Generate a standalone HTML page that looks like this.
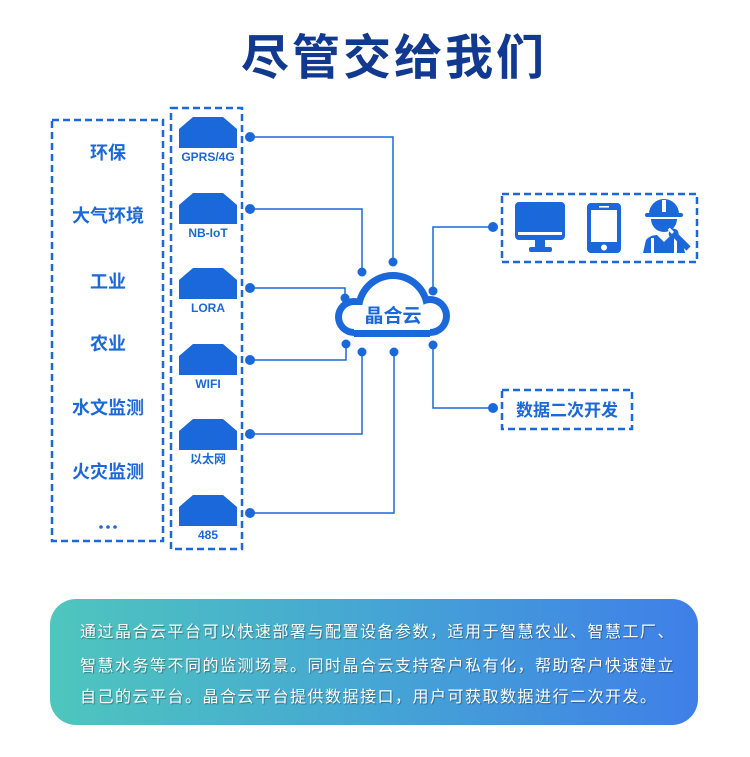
<!DOCTYPE html>
<html><head><meta charset="utf-8">
<style>
html,body{margin:0;padding:0;background:#fff;}
body{width:750px;height:757px;position:relative;overflow:hidden;font-family:"Liberation Sans","Noto Sans CJK SC",sans-serif;}
svg{position:absolute;left:0;top:0;}
.box{position:absolute;left:50px;top:599px;width:648px;height:126px;border-radius:26px;background:linear-gradient(90deg,#4ec6bd 0%,#46a9d2 45%,#3f7fe8 100%);}
.ln{position:absolute;left:80px;font-size:16px;line-height:20px;letter-spacing:1.5px;color:#fff;white-space:nowrap;text-shadow:1px 1px 1px rgba(0,0,0,0.35);font-family:"Liberation Sans","Noto Sans CJK SC",sans-serif;}
</style></head><body>
<svg width="750" height="757" viewBox="0 0 750 757" xmlns="http://www.w3.org/2000/svg" font-family="Liberation Sans, Noto Sans CJK SC, sans-serif">
  <defs>
    <clipPath id="co"><rect x="0" y="0" width="750" height="337"/></clipPath>
    <clipPath id="ci"><rect x="0" y="0" width="750" height="330"/></clipPath>
  </defs>
  <!-- title -->
  <text x="241" y="74" font-size="48" font-weight="bold" fill="#11398f" letter-spacing="3">尽管交给我们</text>

  <!-- dashed boxes -->
  <g fill="none" stroke="#1a68d9" stroke-width="2.5" stroke-dasharray="7,4">
    <rect x="52" y="120" width="111" height="421"/>
    <rect x="171" y="108" width="71" height="441"/>
    <rect x="502" y="194" width="195" height="68"/>
    <rect x="502" y="390" width="130" height="39"/>
  </g>

  <!-- left labels -->
  <g font-size="18" font-weight="bold" fill="#1a68d9" text-anchor="middle">
    <text x="108" y="159">环保</text>
    <text x="108" y="222">大气环境</text>
    <text x="108" y="288">工业</text>
    <text x="108" y="350">农业</text>
    <text x="108" y="414">水文监测</text>
    <text x="108" y="478">火灾监测</text>
  </g>
  <g fill="#1a68d9">
    <circle cx="101" cy="527" r="1.8"/><circle cx="108" cy="527" r="1.8"/><circle cx="115" cy="527" r="1.8"/>
  </g>

  <!-- device icons -->
  <g fill="#1a68d9">
    <polygon points="193,117 223,117 237,129 237,148 179,148 179,129"/>
    <polygon points="193,193 223,193 237,205 237,224 179,224 179,205"/>
    <polygon points="193,268 223,268 237,280 237,299 179,299 179,280"/>
    <polygon points="193,344 223,344 237,356 237,375 179,375 179,356"/>
    <polygon points="193,419 223,419 237,431 237,450 179,450 179,431"/>
    <polygon points="193,495 223,495 237,507 237,526 179,526 179,507"/>
  </g>
  <g font-size="12" font-weight="bold" fill="#1a68d9" text-anchor="middle">
    <text x="208" y="161">GPRS/4G</text>
    <text x="208" y="237">NB-IoT</text>
    <text x="208" y="312">LORA</text>
    <text x="208" y="388">WIFI</text>
    <text x="208" y="463">以太网</text>
    <text x="208" y="539">485</text>
  </g>

  <!-- connectors -->
  <g fill="none" stroke="#1a68d9" stroke-width="1.5">
    <path d="M250 137 H393 V262"/>
    <path d="M250 209 H362 V272"/>
    <path d="M250 288 H345 V298"/>
    <path d="M250 360 H346 V344"/>
    <path d="M250 434 H362 V352"/>
    <path d="M250 513 H394 V352"/>
    <path d="M433 291 V227 H493"/>
    <path d="M433 345 V408 H493"/>
  </g>

  <!-- cloud -->
  <g fill="#1a68d9" clip-path="url(#co)">
    <circle cx="354" cy="317" r="19"/>
    <circle cx="393" cy="310" r="38"/>
    <circle cx="430" cy="316" r="20"/>
    <rect x="354" y="305" width="76" height="40"/>
  </g>
  <g fill="#fff" clip-path="url(#ci)">
    <circle cx="354" cy="317" r="12"/>
    <circle cx="393" cy="310" r="31"/>
    <circle cx="430" cy="316" r="13"/>
    <rect x="354" y="305" width="76" height="40"/>
  </g>
  <text x="393" y="322" font-size="19" font-weight="bold" fill="#1a68d9" text-anchor="middle">晶合云</text>

  <!-- dots -->
  <g fill="#1a68d9">
    <circle cx="250" cy="137" r="5"/>
    <circle cx="250" cy="209" r="5"/>
    <circle cx="250" cy="288" r="5"/>
    <circle cx="250" cy="360" r="5"/>
    <circle cx="250" cy="434" r="5"/>
    <circle cx="250" cy="513" r="5"/>
    <circle cx="393" cy="262" r="4.5"/>
    <circle cx="362" cy="272" r="4.5"/>
    <circle cx="345" cy="298" r="4.5"/>
    <circle cx="433" cy="291" r="4.5"/>
    <circle cx="346" cy="344" r="4.5"/>
    <circle cx="362" cy="352" r="4.5"/>
    <circle cx="394" cy="352" r="4.5"/>
    <circle cx="433" cy="345" r="4.5"/>
    <circle cx="493" cy="227" r="5"/>
    <circle cx="493" cy="408" r="5"/>
  </g>

  <!-- monitor -->
  <g fill="#1a68d9">
    <rect x="515" y="202" width="50" height="38" rx="4"/>
    <rect x="535" y="239" width="10" height="9"/>
    <rect x="529" y="247" width="23" height="5" rx="2"/>
  </g>
  <rect x="518" y="232" width="44" height="3" fill="#fff"/>

  <!-- phone -->
  <rect x="587" y="203" width="34" height="50" rx="4" fill="#1a68d9"/>
  <rect x="591" y="210" width="26" height="32" fill="#fff"/>
  <rect x="599" y="206" width="10" height="1.6" fill="#fff"/>
  <circle cx="604" cy="247.5" r="3" fill="#fff"/>

  <!-- worker -->
  <g fill="#1a68d9">
    <path d="M649 214 A15 15 0 0 1 679 214 Z"/>
    <rect x="645" y="213" width="38" height="4" rx="2"/>
    <path d="M651 219 H677 A13 13 0 0 1 651 219 Z"/>
    <path d="M643 253 L646 240 Q650 235 657 235 L664 242 L671 235 Q678 235 682 240 L685 253 Z"/>
  </g>
  <rect x="662" y="200" width="4" height="12" fill="#fff"/>
  <g fill="#fff">
    <rect x="651" y="238" width="3" height="15"/>
    <rect x="674" y="238" width="3" height="15"/>
  </g>
  <g transform="rotate(-45 680 240)">
    <rect x="677" y="232" width="6" height="20" fill="#1a68d9"/>
    <circle cx="680" cy="231" r="5" fill="#1a68d9"/>
    <rect x="678.5" y="224" width="3" height="6" fill="#fff"/>
  </g>

  <text x="567" y="416" font-size="17" font-weight="bold" fill="#1a68d9" text-anchor="middle">数据二次开发</text>
</svg>

<div class="box"></div>
<div class="ln" style="top:623px;">通过晶合云平台可以快速部署与配置设备参数，适用于智慧农业、智慧工厂、</div>
<div class="ln" style="top:657px;">智慧水务等不同的监测场景。同时晶合云支持客户私有化，帮助客户快速建立</div>
<div class="ln" style="top:688px;">自己的云平台。晶合云平台提供数据接口，用户可获取数据进行二次开发。</div>
</body></html>
